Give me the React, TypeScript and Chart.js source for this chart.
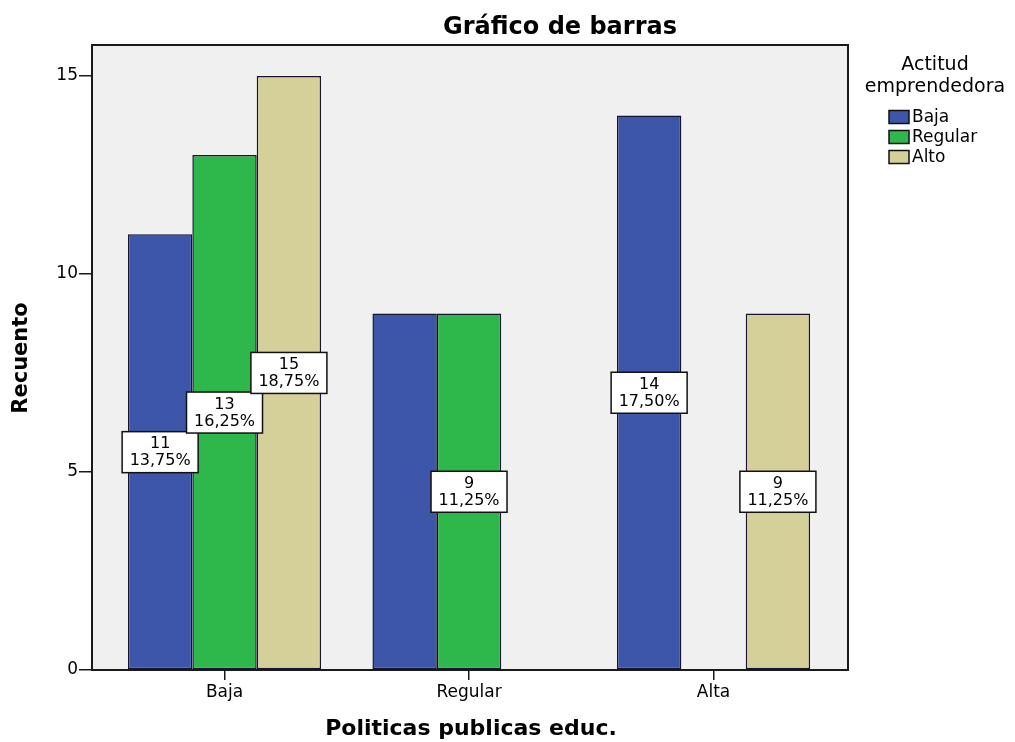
import React, { useEffect, useRef } from "react";
import { Chart, registerables } from "chart.js";

Chart.register(...registerables);

const categories = ["Baja", "Regular", "Alta"];
const seriesNames = ["Baja", "Regular", "Alto"];
const bajaValues = [11, 9, 14];
const regularValues = [13, 9, 0];
const altoValues = [15, 0, 9];
const seriesColors = ["#3e56aa", "#2eb84c", "#d5d099"];
const yTickValues = [0, 5, 10, 15];
const labelShown = [
  [true, false, true],
  [true, true, false],
  [true, false, true],
];
const chartTitle = "Gráfico de barras";
const xTitle = "Politicas publicas educ.";
const yTitle = "Recuento";
const legendTitle = ["Actitud", "emprendedora"];

const seriesValues = [bajaValues, regularValues, altoValues];
const total = seriesValues.reduce((s, arr) => s + arr.reduce((a, b) => a + b, 0), 0);
const FONT = "'DejaVu Sans', 'Liberation Sans', sans-serif";

const decor = {
  id: "decor",
  beforeDatasetsDraw(chart: any) {
    const { ctx, chartArea: a } = chart;
    ctx.save();
    ctx.fillStyle = "#f0f0f0";
    ctx.fillRect(a.left, a.top, a.right - a.left, a.bottom - a.top);
    ctx.restore();
  },
  afterDatasetsDraw(chart: any) {
    const { ctx, chartArea: a } = chart;
    const yScale = chart.scales.y;
    ctx.save();
    ctx.strokeStyle = "#1a1a1a";
    ctx.lineWidth = 2;
    ctx.strokeRect(a.left, a.top, a.right - a.left, a.bottom - a.top);

    // value labels
    chart.data.datasets.forEach((ds: any, i: number) => {
      const meta = chart.getDatasetMeta(i);
      ds.data.forEach((d: any, j: number) => {
        if (!labelShown[i][j] || !d.y) return;
        const el = meta.data[j];
        const cx = el.x;
        const cy = yScale.getPixelForValue(d.y / 2);
        const w = 76, h = 41;
        ctx.fillStyle = "#fff";
        ctx.fillRect(cx - w / 2, cy - h / 2, w, h);
        ctx.strokeStyle = "#111";
        ctx.lineWidth = 1.5;
        ctx.strokeRect(cx - w / 2, cy - h / 2, w, h);
        ctx.fillStyle = "#000";
        ctx.font = `16px ${FONT}`;
        ctx.textAlign = "center";
        ctx.textBaseline = "middle";
        ctx.fillText(String(d.y), cx, cy - 8);
        const pct = ((d.y / total) * 100).toFixed(2).replace(".", ",") + "%";
        ctx.fillText(pct, cx, cy + 9);
      });
    });
    ctx.restore();
  },
  afterDraw(chart: any) {
    const { ctx } = chart;
    ctx.save();
    ctx.fillStyle = "#000";
    ctx.textAlign = "center";
    ctx.textBaseline = "middle";
    ctx.font = `bold 24px ${FONT}`;
    ctx.fillText(chartTitle, 560, 28);
    ctx.font = `bold 22px ${FONT}`;
    ctx.fillText(xTitle, 471, 729);
    ctx.save();
    ctx.translate(22, 358);
    ctx.rotate(-Math.PI / 2);
    ctx.font = `bold 21px ${FONT}`;
    ctx.fillText(yTitle, 0, 0);
    ctx.restore();

    // legend
    ctx.font = `19px ${FONT}`;
    ctx.fillText(legendTitle[0], 935, 65);
    ctx.fillText(legendTitle[1], 935, 87);
    ctx.font = `17px ${FONT}`;
    ctx.textAlign = "left";
    chart.data.datasets.forEach((ds: any, i: number) => {
      const y = 117 + i * 20;
      ctx.fillStyle = ds.backgroundColor;
      ctx.fillRect(889, y - 6.5, 20, 13);
      ctx.strokeStyle = "#111";
      ctx.lineWidth = 1.5;
      ctx.strokeRect(889, y - 6.5, 20, 13);
      ctx.fillStyle = "#000";
      ctx.fillText(ds.label, 912, y + 1);
    });
    ctx.restore();
  },
};

export default function App() {
  const ref = useRef<HTMLCanvasElement>(null);
  useEffect(() => {
    document.body.style.margin = "0";
    const chart = new Chart(ref.current!, {
      type: "bar",
      data: {
        datasets: seriesNames.map((name, i) => ({
          label: name,
          data: seriesValues[i].map((v, j) => ({ x: j, y: v })),
          backgroundColor: seriesColors[i],
          borderColor: "#151530",
          borderWidth: (c: any) => (c.raw && c.raw.y ? 1.5 : 0),
          borderSkipped: false,
        })),
      },
      options: {
        responsive: false,
        animation: false,
        events: [],
        layout: { padding: { left: 0, right: 167, top: 45, bottom: 0 } },
        plugins: { legend: { display: false }, tooltip: { enabled: false }, title: { display: false } },
        datasets: { bar: { categoryPercentage: 0.79, barPercentage: 1 } },
        scales: {
          x: {
            type: "linear",
            offset: false,
            min: -0.542,
            max: 2.55,
            afterBuildTicks: (s: any) => {
              s.ticks = categories.map((_, i) => ({ value: i }));
            },
            afterFit: (s: any) => {
              s.height = 72;
            },
            ticks: {
              callback: (v: any) => categories[v as number],
              font: { family: FONT, size: 17 },
              color: "#000",
              padding: 2,
              autoSkip: false,
              maxRotation: 0,
            },
            grid: { offset: false, drawOnChartArea: false, drawTicks: true, tickLength: 10, color: "#1a1a1a", lineWidth: 1.5 },
            border: { display: true, color: "#1a1a1a", width: 2 },
          },
          y: {
            min: 0,
            max: 15.78,
            afterBuildTicks: (s: any) => {
              s.ticks = yTickValues.map((v) => ({ value: v }));
            },
            afterFit: (s: any) => {
              s.width = 92;
            },
            ticks: {
              font: { family: FONT, size: 17 },
              color: "#000",
              padding: 1,
            },
            grid: { drawOnChartArea: false, drawTicks: true, tickLength: 13, color: "#1a1a1a", lineWidth: 1.5 },
            border: { display: true, color: "#1a1a1a", width: 2 },
          },
        },
      },
      plugins: [decor],
    } as any);
    return () => chart.destroy();
  }, []);
  return (
    <div style={{ width: 1015, height: 742, background: "#fff" }}>
      <canvas ref={ref} width={1015} height={742} />
    </div>
  );
}
